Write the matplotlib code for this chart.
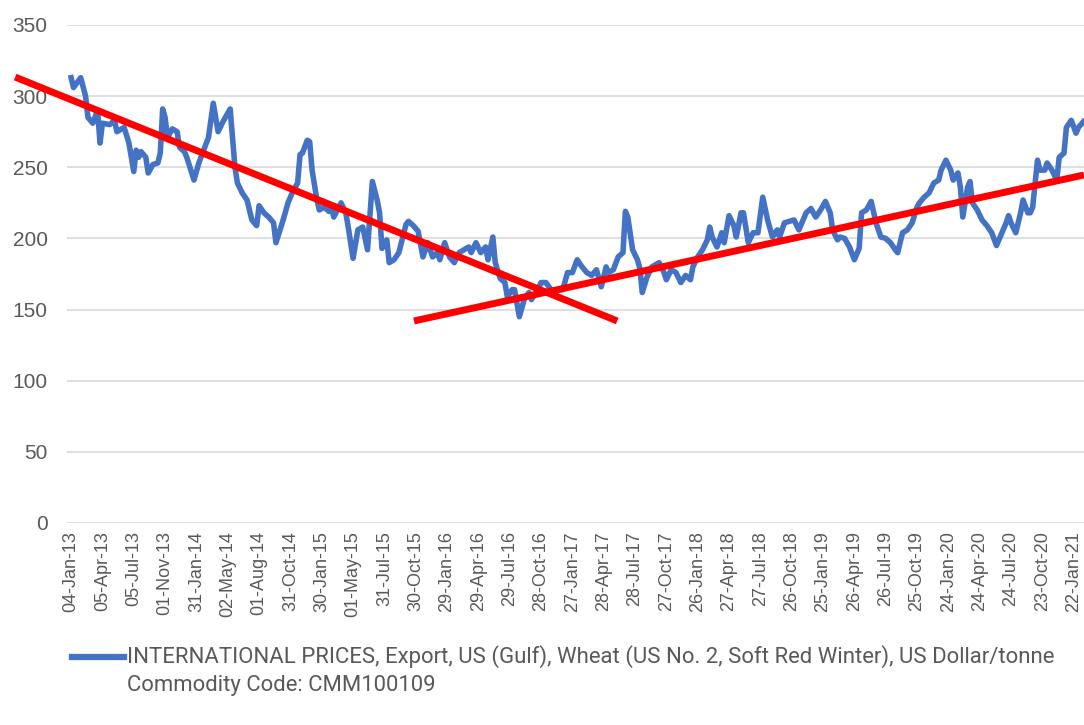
import matplotlib
matplotlib.use("Agg")
import matplotlib.pyplot as plt
from matplotlib.lines import Line2D

# weekly category index (0 = 04-Jan-13) and price
week = [
    0, 1, 4, 6, 7, 9, 11, 12, 13, 16, 18, 19, 22, 24, 26, 27, 28, 29, 31, 32,
    34, 36, 37, 38, 39, 40, 42, 44, 45, 47, 48, 51, 53, 55, 57, 59, 61, 63, 65, 66,
    68, 69, 71, 73, 75, 77, 78, 80, 82, 84, 85, 88, 90, 92, 94, 95, 96, 98, 99, 100,
    102, 103, 105, 107, 108, 109, 112, 114, 115, 117, 119, 121, 123, 125, 127, 128, 129, 131, 132, 134,
    136, 139, 140, 142, 144, 146, 148, 150, 152, 153, 155, 157, 159, 161, 163, 165, 166, 168, 170, 172,
    173, 175, 176, 178, 180, 181, 183, 184, 186, 188, 190, 191, 193, 195, 197, 200, 202, 204, 206, 208,
    210, 212, 214, 216, 218, 220, 222, 223, 225, 227, 229, 230, 231, 233, 235, 236, 237, 239, 241, 244,
    246, 247, 249, 251, 253, 255, 257, 258, 260, 262, 264, 265, 266, 268, 270, 271, 273, 275, 276, 278,
    279, 281, 283, 285, 287, 289, 291, 293, 294, 296, 298, 300, 302, 305, 307, 309, 311, 313, 315, 316,
    318, 319, 321, 323, 325, 327, 328, 330, 332, 334, 336, 338, 340, 342, 343, 345, 347, 349, 351, 352,
    354, 356, 358, 360, 361, 363, 365, 366, 368, 369, 370, 372, 373, 374, 376, 378, 380, 382, 384, 385,
    388, 389, 390, 392, 394, 395, 397, 398, 399, 401, 402, 404, 405, 407, 409, 410, 412, 413, 415, 417,
    418, 420,
]
price = [
    313, 306, 313, 300, 285, 281, 290, 267, 281, 280, 283, 275, 278, 267, 247, 262, 257, 261, 257, 246,
    252, 253, 260, 291, 285, 271, 277, 275, 264, 261, 257, 241, 253, 262, 271, 295, 275, 282, 288, 291,
    250, 239, 232, 227, 213, 209, 223, 218, 215, 211, 197, 213, 225, 233, 239, 259, 260, 269, 268, 248,
    227, 220, 222, 219, 222, 215, 225, 218, 208, 186, 206, 208, 192, 240, 227, 218, 193, 199, 183, 185,
    190, 210, 212, 209, 205, 187, 197, 187, 190, 185, 197, 187, 183, 190, 192, 194, 190, 197, 190, 194,
    185, 201, 183, 172, 169, 159, 164, 164, 145, 157, 162, 157, 162, 169, 169, 162, 164, 164, 176, 176,
    185, 180, 176, 174, 178, 166, 180, 176, 178, 187, 190, 219, 215, 192, 185, 179, 162, 173, 180, 183,
    176, 171, 178, 176, 169, 174, 171, 180, 187, 192, 199, 208, 201, 194, 204, 197, 216, 209, 201, 218,
    218, 197, 204, 204, 229, 213, 201, 206, 201, 211, 212, 213, 206, 218, 221, 215, 220, 226, 218, 206,
    199, 201, 200, 194, 185, 193, 218, 220, 226, 211, 201, 200, 197, 192, 190, 204, 206, 211, 222, 225,
    229, 232, 239, 241, 248, 255, 248, 241, 246, 236, 215, 236, 240, 225, 220, 213, 209, 204, 195, 199,
    211, 216, 211, 204, 218, 227, 218, 218, 222, 255, 248, 248, 253, 248, 241, 257, 260, 278, 283, 274,
    278, 282,
]

tick_labels = [
    "04-Jan-13", "05-Apr-13", "05-Jul-13", "01-Nov-13", "31-Jan-14", "02-May-14",
    "01-Aug-14", "31-Oct-14", "30-Jan-15", "01-May-15", "31-Jul-15", "30-Oct-15",
    "29-Jan-16", "29-Apr-16", "29-Jul-16", "28-Oct-16", "27-Jan-17", "28-Apr-17",
    "28-Jul-17", "27-Oct-17", "26-Jan-18", "27-Apr-18", "27-Jul-18", "26-Oct-18",
    "25-Jan-19", "26-Apr-19", "26-Jul-19", "25-Oct-19", "24-Jan-20", "24-Apr-20",
    "24-Jul-20", "23-Oct-20", "22-Jan-21",
]
tick_step = 13

# hand-drawn red trend lines (category index, price)
down_x = [-23.2, 226.6]
down_y = [313.4, 142.0]
up_x = [142.3, 420.3]
up_y = [142.0, 244.6]

series_name = ("INTERNATIONAL PRICES, Export, US (Gulf), Wheat (US No. 2, "
               "Soft Red Winter), US Dollar/tonne")
sub_name = "Commodity Code: CMM100109"

BLUE = "#4472C4"
GREY = "#595959"
W, H = 1084, 725

fig = plt.figure(figsize=(W / 100, H / 100), dpi=100)
ax = fig.add_axes([67 / W, 1 - 523 / H, 1 - 67 / W, 498 / H])

ax.plot(week, price, color=BLUE, lw=4.0, solid_joinstyle="round", zorder=3)
ax.plot(down_x, down_y, color="#FF0000", lw=5, solid_capstyle="butt",
        clip_on=False, zorder=4)
ax.plot(up_x, up_y, color="#FF0000", lw=5, solid_capstyle="butt",
        clip_on=False, zorder=4)

ax.set_ylim(0, 350)
ax.set_yticks(range(0, 351, 50))
ax.set_xlim(-1.7, 420.3)
ax.set_xticks([i * tick_step for i in range(len(tick_labels))])
ax.set_xticklabels(tick_labels, rotation=90, fontsize=13, color=GREY,
                   family=["Liberation Sans", "DejaVu Sans"])
for lab in ax.get_yticklabels():
    lab.set_fontsize(15)
    lab.set_color(GREY)
    lab.set_family(["Liberation Sans", "DejaVu Sans"])
ax.tick_params(axis="x", length=0, pad=6)
ax.tick_params(axis="y", length=0, pad=14)

ax.grid(axis="y", color="#D9D9D9", lw=1.2)
ax.set_axisbelow(True)
for s in ax.spines.values():
    s.set_visible(False)

# legend drawn below the axes
fig.add_artist(Line2D([72 / W, 124 / W], [1 - 657 / H, 1 - 657 / H],
                      color=BLUE, lw=4.5, transform=fig.transFigure))
leg_font = dict(color=GREY, va="center", ha="left",
                family=["Roboto", "DejaVu Sans"])
t1 = fig.text(127 / W, 1 - 657 / H, series_name, fontsize=15.5, **leg_font)
t2 = fig.text(127 / W, 1 - 686 / H, sub_name, fontsize=15.5, **leg_font)

# the reference uses a narrow face: size the first line to the same width
r = fig.canvas.get_renderer()
width = t1.get_window_extent(r).width
size = 15.5 * 923 / width
t1.set_fontsize(size)
t2.set_fontsize(size)

fig.savefig("out.png", dpi=100)
